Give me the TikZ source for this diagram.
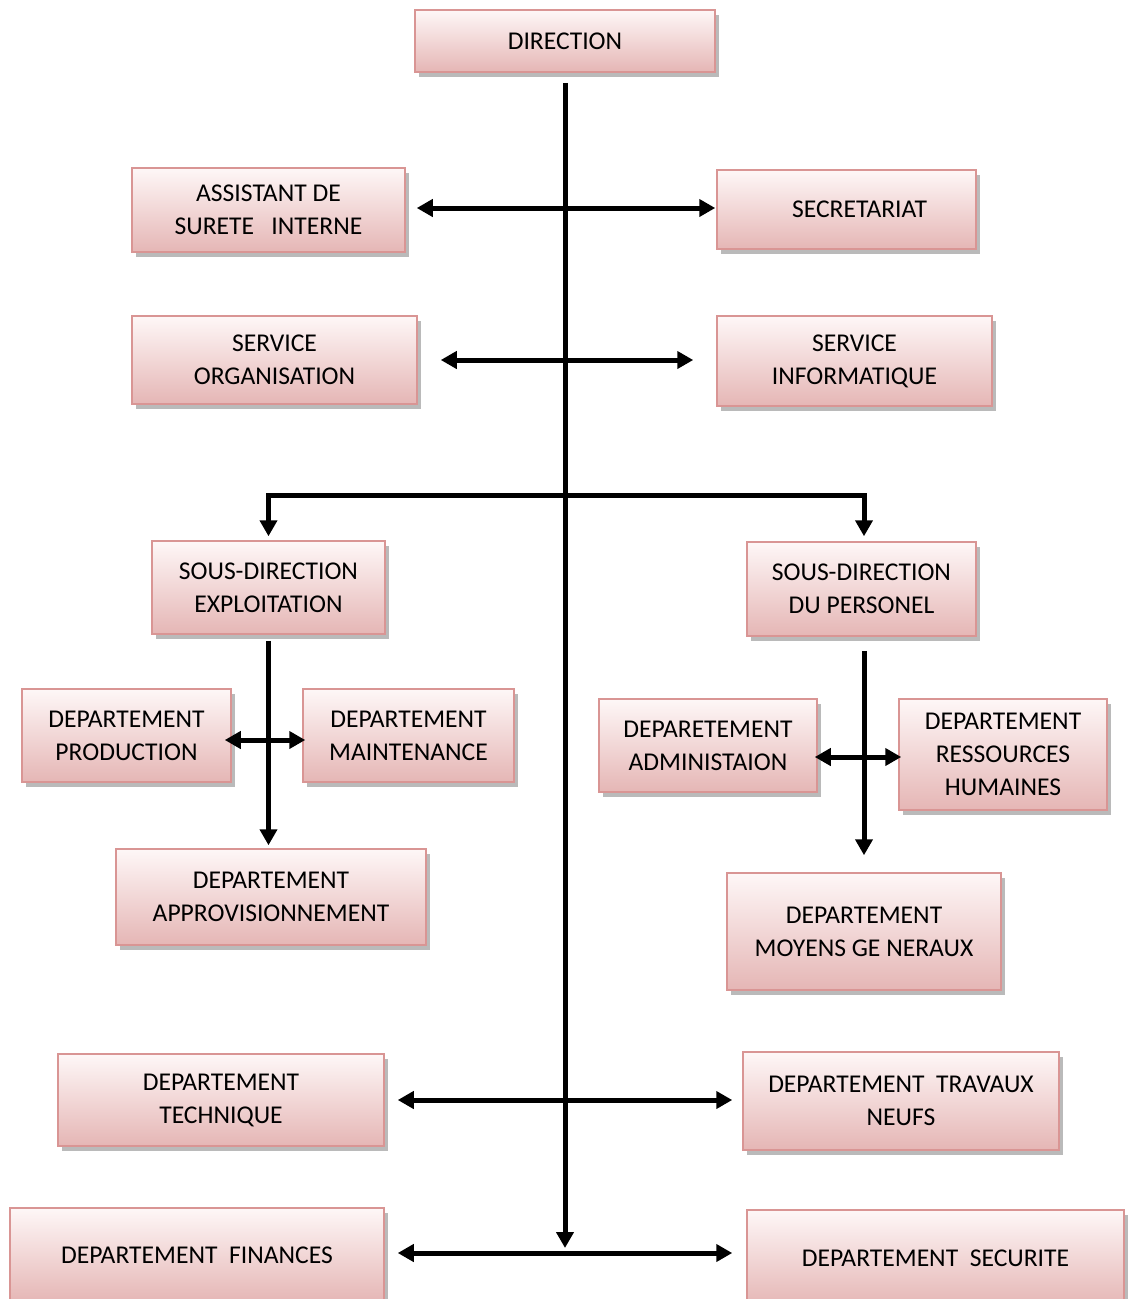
\documentclass[tikz,border=0pt]{standalone}
\usepackage{fontspec}
\setmainfont{Carlito}
\usetikzlibrary{arrows.meta,shadows,calc}
\definecolor{boxtop}{RGB}{254,247,247}
\definecolor{boxbot}{RGB}{229,182,181}
\definecolor{boxline}{RGB}{217,149,148}
\tikzset{
  orgbox/.style={draw=boxline, line width=1.5pt, top color=boxtop, bottom color=boxbot,
    align=center, inner sep=2pt, font=\fontsize{25.6}{33}\selectfont,
    drop shadow={shadow xshift=4pt, shadow yshift=-5pt, fill=black!60, opacity=0.45}},
  conn/.style={line width=5pt, black},
  tip/.tip={Triangle[length=16pt,width=17pt]},
  onearr/.style={conn, -tip},
  twoarr/.style={conn, tip-tip},
}
\newcommand{\obox}[6]{\node[orgbox, minimum width={#4-#2}, minimum height={#5-#3}] (#1) at ({(#2+#4)/2},{(#3+#5)/2}) {#6};}
\begin{document}
\begin{tikzpicture}[x=1pt,y=-1pt]
\useasboundingbox[fill=white] (0,0) rectangle (1130,1299);
\obox{dir}{415}{10}{715}{72}{DIRECTION}
\obox{assist}{132}{168}{405}{252}{ASSISTANT DE\\SURETE\ \ \ INTERNE}
\obox{secr}{717}{170}{976}{249}{\hspace*{26pt}SECRETARIAT}
\obox{org}{132}{316}{417}{404}{SERVICE\\ORGANISATION}
\obox{info}{717}{316}{992}{406}{SERVICE\\INFORMATIQUE}
\obox{sdexp}{152}{541}{385}{634}{SOUS-DIRECTION\\EXPLOITATION}
\obox{sdper}{747}{542}{976}{636}{SOUS-DIRECTION\\DU PERSONEL}
\obox{prod}{22}{689}{231}{782}{DEPARTEMENT\\PRODUCTION}
\obox{maint}{303}{689}{514}{782}{DEPARTEMENT\\MAINTENANCE}
\obox{admin}{599}{699}{817}{792}{DEPARETEMENT\\ADMINISTAION}
\obox{rh}{899}{699}{1107}{810}{DEPARTEMENT\\RESSOURCES\\HUMAINES}
\obox{appro}{116}{849}{426}{945}{DEPARTEMENT\\APPROVISIONNEMENT}
\obox{moyens}{727}{873}{1001}{990}{DEPARTEMENT\\MOYENS GE NERAUX}
\obox{tech}{58}{1054}{384}{1146}{DEPARTEMENT\\TECHNIQUE}
\obox{trav}{743}{1052}{1059}{1150}{DEPARTEMENT\ \ TRAVAUX\\NEUFS}
\obox{fin}{10}{1208}{384}{1302}{DEPARTEMENT\ \ FINANCES}
\obox{sec}{747}{1210}{1124}{1306}{DEPARTEMENT\ \ SECURITE}

% main spine
\coordinate (mainend) at (565,1248);
\coordinate (br) at (565,495);
\draw[onearr, shorten <=10pt] (mainend |- dir.south) -- (mainend);

% first level pairs
\coordinate (a1) at ($(assist.east)+(0,-2)$);
\draw[twoarr, shorten <=11pt, shorten >=1pt] (a1) -- (a1 -| secr.west);
\coordinate (a2) at ($(org.east)+(0,0)$);
\draw[twoarr, shorten <=23pt, shorten >=23pt] (a2) -- (a2 -| info.west);

% branches to sub-directions
\draw[onearr, shorten >=4pt] (br) -| (sdexp.north);
\draw[onearr, shorten >=5pt] (br) -| ([xshift=2.5pt]sdper.north);

% left sub-direction
\draw[onearr, shorten <=6pt, shorten >=3pt] (sdexp.south) -- (sdexp.south |- appro.north);
\coordinate (a3) at ($(prod.east)+(0,4.5)$);
\draw[twoarr, shorten <=-7pt, shorten >=-3pt] (a3) -- (a3 -| maint.west);

% right sub-direction
\draw[onearr, shorten <=14pt, shorten >=17pt] ([xshift=2.5pt]sdper.south) -- ([xshift=2.5pt]sdper.south |- moyens.north);
\coordinate (a4) at ($(admin.east)+(0,11.5)$);
\draw[twoarr, shorten <=-3pt, shorten >=-3pt] (a4) -- (a4 -| rh.west);

% lower pairs
\coordinate (a5) at ($(tech.east)+(0,0)$);
\draw[twoarr, shorten <=13pt, shorten >=10pt] (a5) -- (a5 -| trav.west);
\coordinate (a6) at ($(fin.east)+(0,-2)$);
\draw[twoarr, shorten <=13pt, shorten >=14pt] (a6) -- (a6 -| sec.west);
\end{tikzpicture}
\end{document}
